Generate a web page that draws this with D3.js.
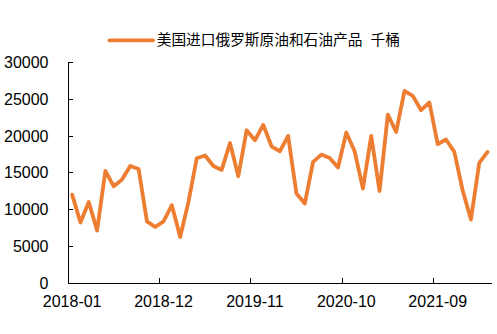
<!DOCTYPE html>
<html>
<head>
<meta charset="utf-8">
<script src="https://cdn.jsdelivr.net/npm/d3@7"></script>
<style>
  body { margin: 0; background: #fff; }
  svg { display: block; }
  text { font-family: "Liberation Sans", Arial, "Noto Sans CJK SC", sans-serif; fill: #000; }
</style>
</head>
<body>
<svg id="chart" width="497" height="334"></svg>
<script>
const seriesName = "美国进口俄罗斯原油和石油产品  千桶";
const startYear = 2018, startMonth = 1;
const values = [
  12040, 8230, 11040, 7140, 15260, 13170, 14080, 15940, 15530, 8400, 7630, 8400,
  10590, 6270, 11040, 16990, 17360, 15940, 15400, 19070, 14540, 20800, 19440, 21530,
  18620, 17940, 20030, 12180, 10820, 16490, 17490, 17030, 15720, 20490, 17940, 12860,
  20030, 12530, 22940, 20570, 26160, 25480, 23530, 24580, 18900, 19540, 17850, 12630,
  8640, 16350, 17850
];
const months = values.map((v, i) => {
  const m = startMonth - 1 + i;
  const yr = startYear + Math.floor(m / 12);
  return yr + "-" + String((m % 12) + 1).padStart(2, "0");
});
const xTickLabels = ["2018-01", "2018-12", "2019-11", "2020-10", "2021-09"];
const yTicks = [0, 5000, 10000, 15000, 20000, 25000, 30000];

(function () {
  const svg = d3.select("#chart");
  const pL = 68, pR = 491.7, pT = 62.7, pB = 283;
  const x = d3.scaleBand().domain(months).range([pL, pR]).padding(0);
  const y = d3.scaleLinear().domain([0, 30000]).range([pB, pT]);

  // y axis
  svg.append("line").attr("x1", pL).attr("x2", pL).attr("y1", pT).attr("y2", pB)
    .attr("stroke", "#000").attr("stroke-width", 1).attr("shape-rendering", "crispEdges");
  yTicks.forEach(t => {
    svg.append("line").attr("x1", pL).attr("x2", pL + 5).attr("y1", y(t)).attr("y2", y(t))
      .attr("stroke", "#000").attr("stroke-width", 1).attr("shape-rendering", "crispEdges");
    svg.append("text").attr("x", 48.5).attr("y", y(t)).attr("text-anchor", "end")
      .attr("dominant-baseline", "central").attr("font-size", 16).text(t);
  });

  // x axis
  svg.append("line").attr("x1", pL).attr("x2", pR).attr("y1", pB).attr("y2", pB)
    .attr("stroke", "#000").attr("stroke-width", 1).attr("shape-rendering", "crispEdges");
  xTickLabels.forEach(lbl => {
    const xb = x(lbl);
    svg.append("line").attr("x1", xb).attr("x2", xb).attr("y1", pB - 5).attr("y2", pB)
      .attr("stroke", "#000").attr("stroke-width", 1).attr("shape-rendering", "crispEdges");
    svg.append("text").attr("x", xb + x.bandwidth() / 2).attr("y", 307.3).attr("text-anchor", "middle")
      .attr("font-size", 16).text(lbl);
  });

  // line
  const line = d3.line().x((d, i) => x(months[i]) + x.bandwidth() / 2).y(d => y(d));
  svg.append("path").datum(values).attr("d", line).attr("fill", "none")
    .attr("stroke", "#ED7D31").attr("stroke-width", 3.8).attr("stroke-linejoin", "round").attr("stroke-linecap", "round");

  // legend
  svg.append("line").attr("x1", 109.5).attr("x2", 153).attr("y1", 40.3).attr("y2", 40.3)
    .attr("stroke", "#ED7D31").attr("stroke-width", 3.8).attr("stroke-linecap", "round");
  svg.append("text").attr("x", 156.7).attr("y", 40.3).attr("dominant-baseline", "central")
    .attr("font-size", 14.7).style("white-space", "pre")
    .attr("font-family", "'Noto Sans CJK SC', sans-serif").text(seriesName);
})();
</script>
</body>
</html>
